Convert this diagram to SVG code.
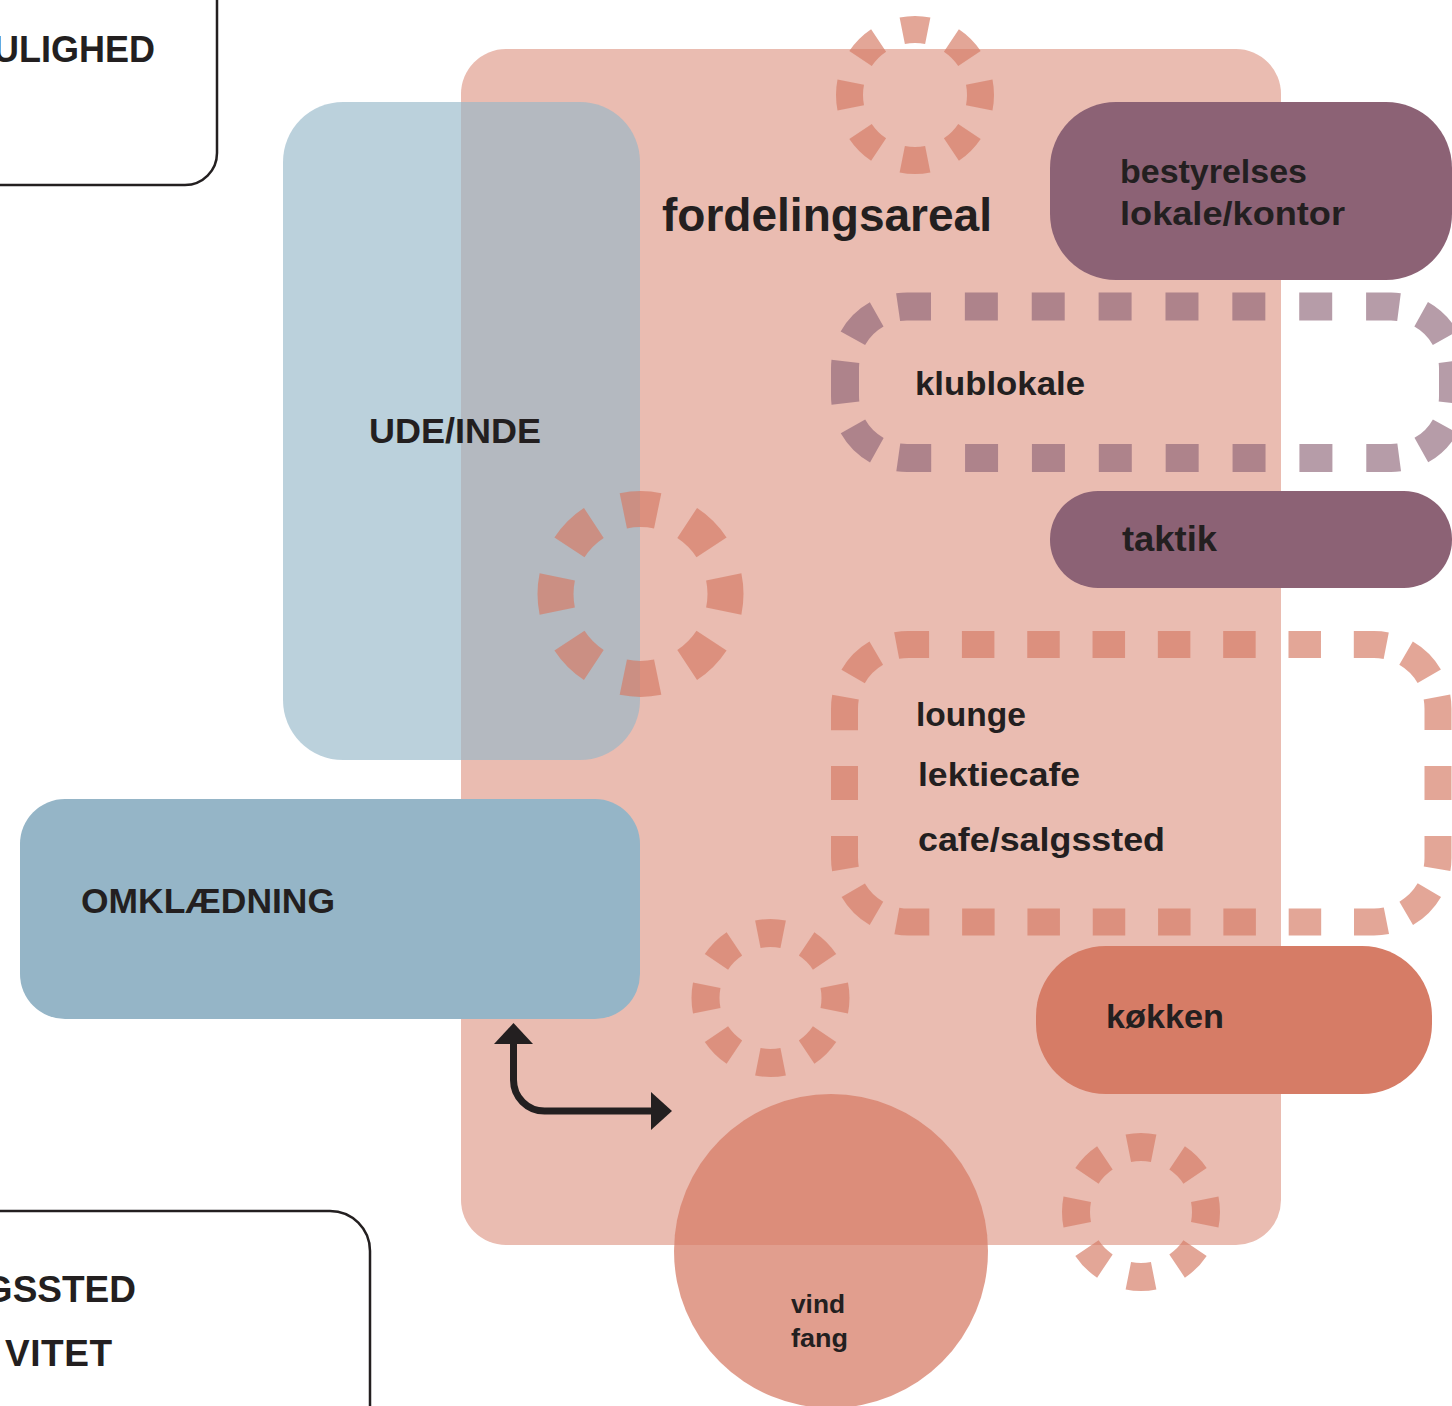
<svg xmlns="http://www.w3.org/2000/svg" width="1452" height="1406" viewBox="0 0 1452 1406">
<style>
text{font-family:"Liberation Sans",Arial,sans-serif;font-weight:bold;fill:#231f20}
.ring{fill:none;stroke:#d67c66;stroke-opacity:0.68}
.frame{fill:none;stroke:#231f20;stroke-width:2.5}
</style>
<rect width="1452" height="1406" fill="#ffffff"/>
<g id="frame-top"><rect class="frame" x="-50" y="-50" width="267" height="235" rx="32"/><text x="155" y="62" font-size="36" text-anchor="end">ULIGHED</text></g>
<g id="frame-bottom"><rect class="frame" x="-50" y="1211" width="420" height="260" rx="40"/><text x="136" y="1302" font-size="37" text-anchor="end">GSSTED</text><text x="112" y="1366" font-size="37" text-anchor="end" textLength="107" lengthAdjust="spacing">VITET</text></g>
<g id="fordelingsareal"><rect x="461" y="49" width="820" height="1196" rx="45" fill="#eabcb1"/><text x="662" y="231" font-size="46" textLength="330" lengthAdjust="spacingAndGlyphs">fordelingsareal</text></g>
<g id="ude-inde"><rect x="283" y="102" width="357" height="658" rx="60" fill="#95b7c8" fill-opacity="0.64"/><text x="369" y="443" font-size="35" textLength="172" lengthAdjust="spacingAndGlyphs">UDE/INDE</text></g>
<g id="omklaedning"><rect x="20" y="799" width="620" height="220" rx="45" fill="#95b5c7"/><text x="81" y="913" font-size="35" textLength="254" lengthAdjust="spacingAndGlyphs">OMKLÆDNING</text></g>
<g id="bestyrelses"><rect x="1050" y="102" width="402" height="178" rx="66" fill="#8c6275"/><text x="1120" y="183" font-size="34" textLength="187" lengthAdjust="spacingAndGlyphs">bestyrelses</text><text x="1120" y="225" font-size="34" textLength="225" lengthAdjust="spacingAndGlyphs">lokale/kontor</text></g>
<g id="taktik"><rect x="1050" y="491" width="402" height="97" rx="48" fill="#8c6275"/><text x="1122" y="551" font-size="35" textLength="95" lengthAdjust="spacingAndGlyphs">taktik</text></g>
<g id="koekken"><rect x="1036" y="946" width="396" height="148" rx="70" fill="#d67c66"/><text x="1106" y="1028" font-size="34" textLength="118" lengthAdjust="spacingAndGlyphs">køkken</text></g>
<g id="klublokale"><path d="M907 306.5H1391A62 62 0 0 1 1453 368.5V396A62 62 0 0 1 1391 458H907A62 62 0 0 1 845 396V368.5A62 62 0 0 1 907 306.5Z" pathLength="1412.56" fill="none" stroke="#8c6275" stroke-opacity="0.63" stroke-width="28" stroke-dasharray="33 33.9 33 33.9 33 33.9 33 33.9 33 33.9 33 33.9 33 33.9 33 23.4 34 24.44 42 24.44 34 23.42 33 33.9 33 33.9 33 33.9 33 33.9 33 33.9 33 33.9 33 33.9 33 22.7 34 24.44 42 24.45 34 22.69" stroke-dashoffset="9"/><text x="915" y="395" font-size="34" textLength="170" lengthAdjust="spacingAndGlyphs">klublokale</text></g>
<g id="lounge"><path d="M908.5 644.5H1374A64 64 0 0 1 1438 708.5V858A64 64 0 0 1 1374 922H908.5A64 64 0 0 1 844.5 858V708.5A64 64 0 0 1 908.5 644.5Z" pathLength="1632.12" fill="none" stroke="#d67c66" stroke-opacity="0.68" stroke-width="27" stroke-dasharray="32.5 32.84 32.5 32.84 32.5 32.84 32.5 32.84 32.5 32.84 32.5 32.84 32.5 32.84 32.5 21.29 33 22.26 33 36 34 36 33 22.77 33 21.26 32.5 32.84 32.5 32.84 32.5 32.84 32.5 32.84 32.5 32.84 32.5 32.84 32.5 32.84 32.5 21.87 33 22.76 33 36 34 36 33 22.27 33 21.86" stroke-dashoffset="11.9"/><text x="916" y="726" font-size="34" textLength="110" lengthAdjust="spacingAndGlyphs">lounge</text><text x="918" y="786" font-size="34" textLength="162" lengthAdjust="spacingAndGlyphs">lektiecafe</text><text x="918" y="851" font-size="34" textLength="247" lengthAdjust="spacingAndGlyphs">cafe/salgssted</text></g>
<g id="ring-1"><circle class="ring" cx="915" cy="95" r="65.5" stroke-width="27" pathLength="8" stroke-dasharray="0.5 0.5" stroke-dashoffset="0.25"/></g>
<g id="ring-2"><circle class="ring" cx="640.5" cy="594" r="85" stroke-width="36" pathLength="8" stroke-dasharray="0.52 0.48" stroke-dashoffset="0.26"/></g>
<g id="ring-3"><circle class="ring" cx="770.5" cy="998" r="65" stroke-width="28" pathLength="8" stroke-dasharray="0.5 0.5" stroke-dashoffset="0.25"/></g>
<g id="ring-4"><circle class="ring" cx="1141" cy="1212" r="65" stroke-width="28" pathLength="8" stroke-dasharray="0.5 0.5" stroke-dashoffset="0.25"/></g>
<g id="vindfang"><circle cx="831" cy="1251" r="157" fill="#d67c66" fill-opacity="0.74"/><text x="791" y="1313" font-size="25" textLength="54" lengthAdjust="spacingAndGlyphs">vind</text><text x="791" y="1347" font-size="25" textLength="57" lengthAdjust="spacingAndGlyphs">fang</text></g>
<g id="connectors"><path d="M513.5 1042V1080A31 31 0 0 0 544.5 1111H653" fill="none" stroke="#231f20" stroke-width="7"/><path d="M494 1044L513.5 1023L533 1044Z" fill="#231f20"/><path d="M651 1092L672 1111L651 1130Z" fill="#231f20"/></g>
</svg>
